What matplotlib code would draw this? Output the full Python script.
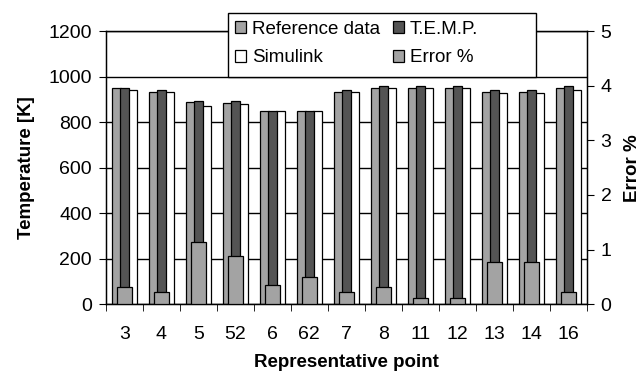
import matplotlib
matplotlib.use("Agg")
import matplotlib.pyplot as plt
from matplotlib.patches import Rectangle
import numpy as np

plt.rcParams['font.family'] = ['Liberation Sans', 'DejaVu Sans']

# data
points = ['3', '4', '5', '52', '6', '62', '7', '8', '11', '12', '13', '14', '16']
reference = [949, 934, 888, 884, 850, 850, 934, 949, 949, 949, 934, 934, 949]
temp = [949, 943, 894, 894, 850, 850, 943, 958, 958, 958, 943, 943, 958]
simulink = [942, 934, 869, 879, 850, 850, 934, 949, 949, 949, 927, 927, 943]
error_pct = [0.31, 0.22, 1.13, 0.88, 0.35, 0.49, 0.22, 0.31, 0.115, 0.115, 0.77, 0.77, 0.22]

light = '#a3a3a3'
dark = '#545454'
fs = 13.5
tfs = 14

fig = plt.figure(figsize=(6.42, 3.75), dpi=100)
ax = fig.add_axes([0.165, 0.189, 0.749, 0.728])
x = np.arange(len(points))
w = 0.25

b_ref = ax.bar(x - 0.22, reference, w, color=light, edgecolor='black', lw=0.9, zorder=2)
b_sim = ax.bar(x + 0.22, simulink, w, color='white', edgecolor='black', lw=0.9, zorder=2)
b_tmp = ax.bar(x, temp, w, color=dark, edgecolor='black', lw=0.9, zorder=3)

ax.set_xlim(-0.5, len(points) - 0.5)
ax.set_ylim(0, 1200)
ax.set_yticks(range(0, 1201, 200))
ax.yaxis.grid(True, color='black', lw=1, zorder=0)
ax.set_axisbelow(True)
ax.set_xticks(x)
ax.set_xticklabels(points)
ax.set_xticks(np.arange(-0.5, len(points), 1), minor=True)
ax.tick_params(axis='x', which='major', length=0, pad=16, labelsize=tfs)
ax.tick_params(axis='x', which='minor', length=5, direction='out')
ax.tick_params(axis='y', length=5, direction='out', labelsize=tfs, pad=5)
for s in ax.spines.values():
    s.set_linewidth(1)
ax.set_ylabel('Temperature [K]', fontsize=fs, fontweight='bold', labelpad=10)
ax.set_xlabel('Representative point', fontsize=fs, fontweight='bold', labelpad=8)

ax2 = ax.twinx()
b_err = ax2.bar(x, error_pct, 0.4, color=light, edgecolor='black', lw=0.9, zorder=3)
ax2.set_ylim(0, 5)
ax2.set_yticks(range(0, 6))
ax2.tick_params(axis='y', length=5, direction='out', labelsize=tfs, pad=5)
ax2.set_ylabel('Error %', fontsize=fs, fontweight='bold', labelpad=9)

# legend box (Excel style, wider than its contents, bottom on the 1000 line)
box = Rectangle((0.2536, 1000 / 1200), 0.640, 0.234, transform=ax2.transAxes,
                facecolor='white', edgecolor='black', lw=1, clip_on=False, zorder=9)
ax2.add_patch(box)
leg = ax2.legend([b_ref, b_sim, b_tmp, b_err],
                 ['Reference data', 'Simulink', 'T.E.M.P.', 'Error %'],
                 ncol=2, loc='upper left', bbox_to_anchor=(0.268, 1.038),
                 fontsize=fs, frameon=False, borderaxespad=0, borderpad=0,
                 handlelength=0.6, handleheight=0.6, handletextpad=0.3,
                 columnspacing=0.7, labelspacing=0.62)
leg.set_zorder(10)

fig.savefig('out.png', dpi=100)
